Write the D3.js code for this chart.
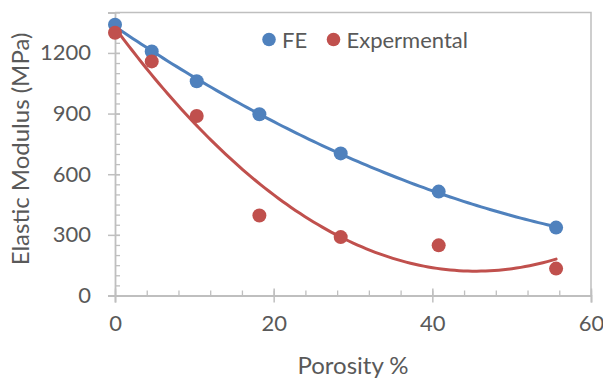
<!DOCTYPE html>
<html>
<head>
<meta charset="utf-8">
<script src="https://cdn.jsdelivr.net/npm/d3@7"></script>
<style>
  html, body { margin: 0; padding: 0; background: #fff; }
  svg { display: block; font-family: Lato, "Open Sans", sans-serif; }
</style>
</head>
<body>
<svg id="chart" width="603" height="379"></svg>
<script>
// Porosity (%) of the samples and the elastic modulus (MPa) of each
const porosity = [0, 4.63, 10.3, 18.2, 28.45, 40.8, 55.6];
const feModulus = [1340, 1207, 1060, 897, 703, 514, 336];
const expModulus = [1300, 1158, 888, 396, 289, 248, 133];

const seriesNames = ["FE", "Expermental"];
const seriesColors = ["#4F81BD", "#C0504D"];

const xTicks = [0, 20, 40, 60];
const yTicks = [0, 300, 600, 900, 1200];
const xDomain = [0, 60];
const yDomain = [0, 1400];

const plot = { left: 115, right: 591, top: 12.5, bottom: 295.5 };
const svg = d3.select("#chart");
const textColor = "#595959";
const axisColor = "#BFBFBF";

const x = d3.scaleLinear().domain(xDomain).range([plot.left, plot.right]);
const y = d3.scaleLinear().domain(yDomain).range([plot.bottom, plot.top]);

// frame: top and right borders of the plot area
svg.append("path")
  .attr("d", `M${plot.left},${plot.top}H${plot.right}V${plot.bottom}`)
  .attr("fill", "none").attr("stroke", axisColor).attr("stroke-width", 1.5);

// minor ticks pointing into the plot
const minorX = svg.append("g").attr("transform", `translate(0,${plot.bottom})`)
  .call(d3.axisBottom(x).tickValues(d3.range(0, 61, 4)).tickSize(-5).tickFormat(""));
const minorY = svg.append("g").attr("transform", `translate(${plot.left},0)`)
  .call(d3.axisLeft(y).tickValues(d3.range(0, 1401, 50)).tickSize(-5).tickFormat(""));
[minorX, minorY].forEach(g => {
  g.select(".domain").remove();
  g.selectAll("line").attr("stroke", axisColor).attr("stroke-width", 1.3);
});

// major axes with ticks crossing the axis line
const xAxis = svg.append("g").attr("transform", `translate(0,${plot.bottom})`)
  .call(d3.axisBottom(x).tickValues(xTicks).tickSize(7).tickPadding(13).tickFormat(d3.format("d")));
xAxis.selectAll(".tick line").attr("y1", -7);
const yAxis = svg.append("g").attr("transform", `translate(${plot.left},0)`)
  .call(d3.axisLeft(y).tickValues(yTicks).tickSize(7).tickPadding(17).tickFormat(d3.format("d")));
yAxis.selectAll(".tick line").attr("x1", 5);
[xAxis, yAxis].forEach(g => {
  g.select(".domain").attr("stroke", axisColor).attr("stroke-width", 1.8);
  g.selectAll(".tick line").attr("stroke", axisColor).attr("stroke-width", 1.5);
  g.selectAll(".tick text").attr("fill", textColor).attr("font-size", 22)
    .attr("font-family", "Lato, sans-serif");
});

// axis titles
svg.append("text")
  .attr("x", (plot.left + plot.right) / 2).attr("y", 374)
  .attr("text-anchor", "middle").attr("fill", textColor).attr("font-size", 24)
  .text("Porosity %");
svg.append("text")
  .attr("transform", `translate(29,${(plot.top + plot.bottom) / 2 - 5}) rotate(-90)`)
  .attr("text-anchor", "middle").attr("fill", textColor).attr("font-size", 24)
  .text("Elastic Modulus (MPa)");

// second-order least-squares trendline through a series
function quadFit(xs, ys) {
  const n = xs.length;
  const s = k => d3.sum(xs, v => Math.pow(v, k));
  const t = k => d3.sum(xs, (v, i) => Math.pow(v, k) * ys[i]);
  const A = [[n, s(1), s(2)], [s(1), s(2), s(3)], [s(2), s(3), s(4)]];
  const b = [t(0), t(1), t(2)];
  // Gaussian elimination
  for (let i = 0; i < 3; i++) {
    for (let j = i + 1; j < 3; j++) {
      const f = A[j][i] / A[i][i];
      for (let k = i; k < 3; k++) A[j][k] -= f * A[i][k];
      b[j] -= f * b[i];
    }
  }
  const c = [0, 0, 0];
  for (let i = 2; i >= 0; i--) {
    let v = b[i];
    for (let k = i + 1; k < 3; k++) v -= A[i][k] * c[k];
    c[i] = v / A[i][i];
  }
  return v => c[0] + c[1] * v + c[2] * v * v;
}

const series = [feModulus, expModulus];
const line = d3.line().x(d => x(d[0])).y(d => y(d[1]));
const xMin = d3.min(porosity), xMax = d3.max(porosity);
const samples = d3.range(0, 101).map(i => xMin + (xMax - xMin) * i / 100);

series.forEach((vals, si) => {
  const f = quadFit(porosity, vals);
  svg.append("path")
    .datum(samples.map(v => [v, f(v)]))
    .attr("d", line)
    .attr("fill", "none")
    .attr("stroke", seriesColors[si])
    .attr("stroke-width", 3)
    .attr("stroke-linecap", "round");
});

series.forEach((vals, si) => {
  svg.append("g").selectAll("circle")
    .data(vals.map((v, i) => [porosity[i], v]))
    .join("circle")
    .attr("cx", d => x(d[0]))
    .attr("cy", d => y(d[1]))
    .attr("r", 7)
    .attr("fill", seriesColors[si]);
});

// legend
const legendItems = [{ cx: 269, tx: 282 }, { cx: 333.5, tx: 346.5 }];
legendItems.forEach((p, i) => {
  svg.append("circle").attr("cx", p.cx).attr("cy", 39.5).attr("r", 6.8).attr("fill", seriesColors[i]);
  svg.append("text").attr("x", p.tx).attr("y", 47.5)
    .attr("fill", textColor).attr("font-size", 22)
    .text(seriesNames[i]);
});
</script>
</body>
</html>
